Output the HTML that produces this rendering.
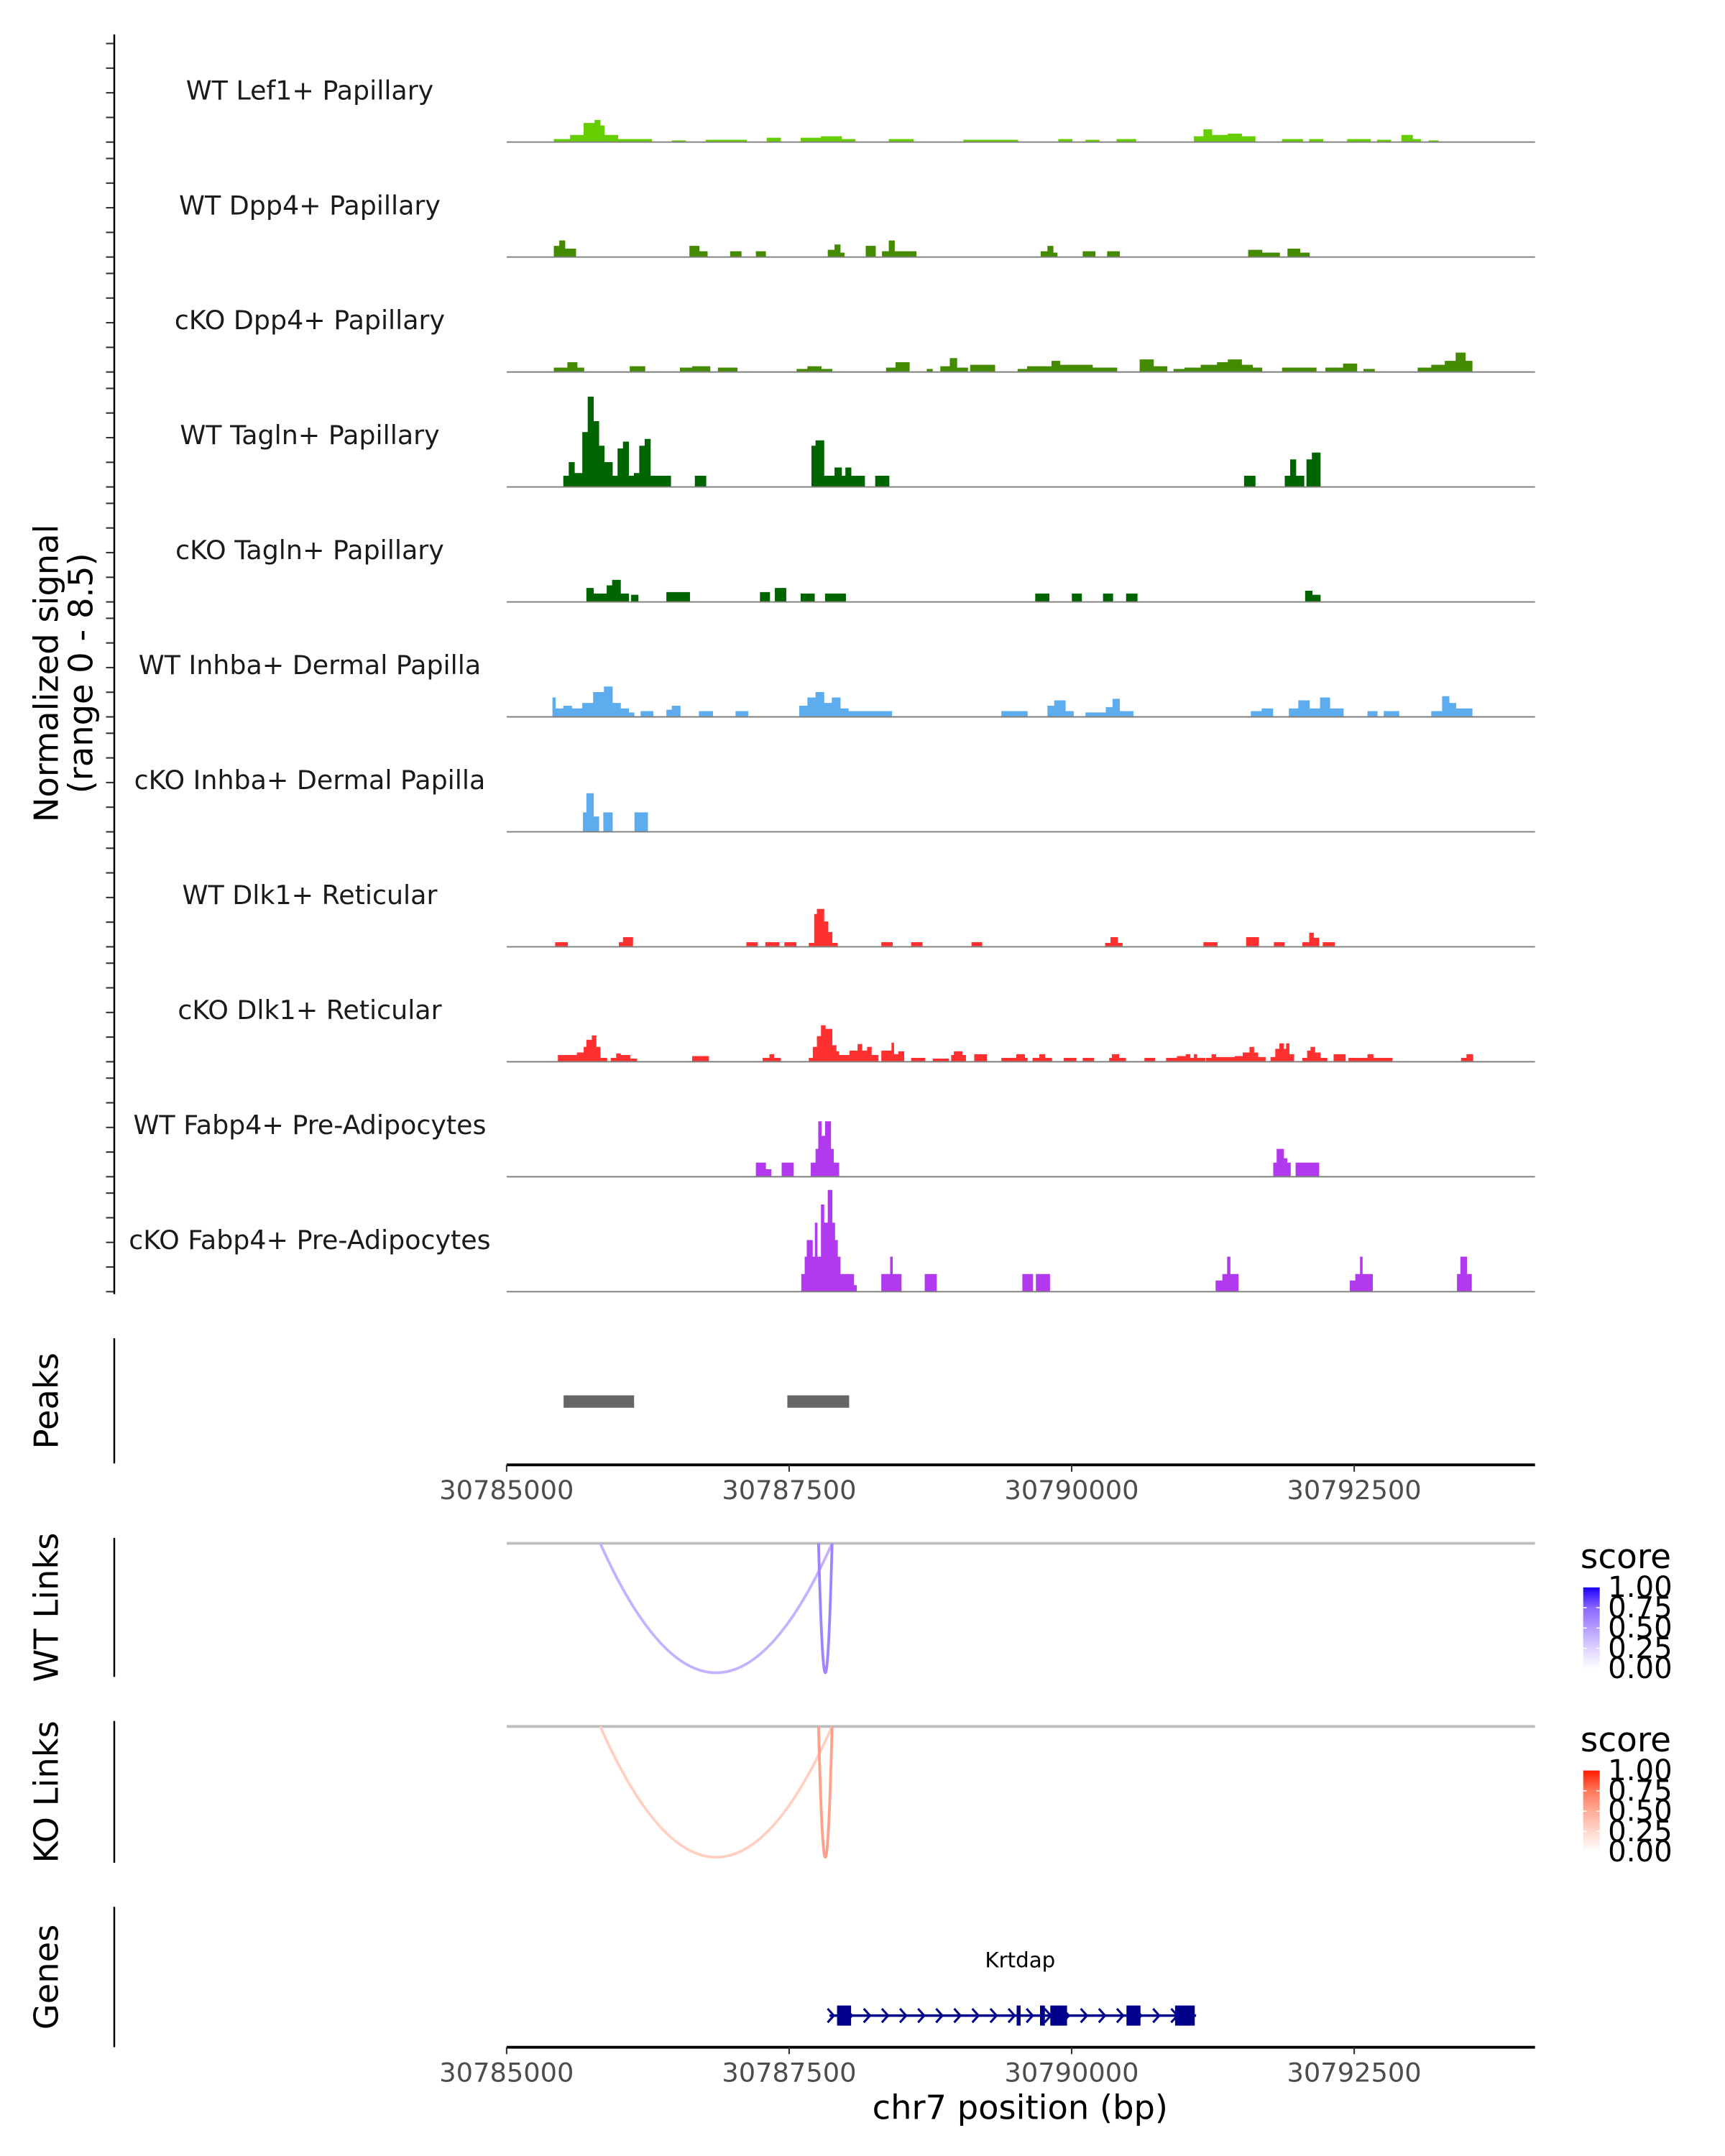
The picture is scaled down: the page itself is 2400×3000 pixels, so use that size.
<!DOCTYPE html>
<html><head><meta charset="utf-8"><title>Coverage plot</title>
<style>html,body{margin:0;padding:0;background:#fff}svg{display:block}text{font-family:"DejaVu Sans","Liberation Sans",sans-serif}</style>
</head><body>
<svg id="chart" xmlns="http://www.w3.org/2000/svg" width="2400" height="3000" viewBox="0 0 1253 1566" preserveAspectRatio="none">
<rect x="0" y="0" width="1253" height="1566" fill="#fff"/>
<g id="tracks"></g>
<g id="axes"></g>
</svg>
<script>
const REGION_START = 30785000;
const REGION_END = 30794100;
const xTickValues = [30785000, 30787500, 30790000, 30792500];
const trackNames = ["WT Lef1+ Papillary","WT Dpp4+ Papillary","cKO Dpp4+ Papillary","WT Tagln+ Papillary","cKO Tagln+ Papillary","WT Inhba+ Dermal Papilla","cKO Inhba+ Dermal Papilla","WT Dlk1+ Reticular","cKO Dlk1+ Reticular","WT Fabp4+ Pre-Adipocytes","cKO Fabp4+ Pre-Adipocytes"];
const trackColors = ["#66cd00","#458b00","#458b00","#006400","#006400","#5cacee","#5cacee","#ff3030","#ff3030","#b23aee","#b23aee"];
const yTickValues = [0,2,4,6,8];
// segments: [start offset bp, end offset bp, normalized signal]
const lef1WT = [[420,564,0.22],[564,684,0.55],[684,780,1.5],[780,828,1.75],[828,864,1.3],[864,984,0.55],[984,1284,0.22],[1464,1584,0.11],[1764,2124,0.16],[2304,2424,0.33],[2604,2784,0.33],[2784,2964,0.44],[2964,3084,0.22],[3384,3600,0.22],[4044,4524,0.16],[4884,5004,0.22],[5124,5244,0.16],[5400,5568,0.22],[6084,6168,0.44],[6168,6240,1.0],[6240,6384,0.55],[6384,6504,0.65],[6504,6624,0.44],[6864,7044,0.22],[7104,7224,0.22],[7440,7644,0.22],[7704,7824,0.16],[7920,8016,0.55],[8016,8088,0.22],[8160,8244,0.11]];
const dpp4WT = [[420,468,0.87],[468,516,1.3],[516,612,0.65],[1620,1704,0.87],[1704,1776,0.44],[1980,2076,0.44],[2208,2292,0.44],[2844,2904,0.55],[2904,2952,0.98],[2952,2988,0.33],[3180,3264,0.87],[3324,3384,0.44],[3384,3432,1.3],[3432,3624,0.44],[4728,4788,0.44],[4788,4836,0.87],[4836,4872,0.33],[5100,5208,0.44],[5316,5424,0.44],[6564,6684,0.55],[6684,6840,0.33],[6912,7020,0.65],[7020,7104,0.33]];
const dpp4KO = [[420,540,0.33],[540,624,0.76],[624,684,0.33],[1092,1224,0.44],[1536,1644,0.33],[1644,1800,0.44],[1872,2040,0.33],[2568,2664,0.22],[2664,2784,0.44],[2784,2880,0.22],[3360,3444,0.33],[3444,3564,0.76],[3720,3768,0.22],[3840,3924,0.44],[3924,3984,1.09],[3984,4080,0.33],[4104,4320,0.55],[4524,4608,0.22],[4608,4824,0.44],[4824,4896,0.87],[4896,5184,0.55],[5184,5400,0.33],[5604,5724,0.98],[5724,5844,0.44],[5904,6000,0.22],[6000,6144,0.33],[6144,6288,0.55],[6288,6384,0.76],[6384,6504,0.98],[6504,6600,0.55],[6600,6684,0.33],[6864,7164,0.33],[7248,7404,0.33],[7404,7524,0.65],[7584,7680,0.22],[8064,8184,0.33],[8184,8304,0.55],[8304,8400,0.87],[8400,8484,1.53],[8484,8544,0.87]];
const taglnWT = [[504,552,0.87],[552,600,1.96],[600,672,1.09],[672,720,4.36],[720,768,7.19],[768,816,5.23],[816,864,3.27],[864,936,1.96],[936,984,0.87],[984,1032,3.05],[1032,1080,3.6],[1080,1128,0.87],[1128,1176,1.09],[1176,1224,3.27],[1224,1272,3.81],[1272,1452,0.87],[1668,1764,0.87],[2700,2736,3.27],[2736,2808,3.7],[2808,2904,0.87],[2904,2964,1.53],[2964,3000,0.87],[3000,3048,1.53],[3048,3168,0.87],[3264,3384,0.87],[6528,6624,0.87],[6888,6936,0.87],[6936,6984,2.18],[6984,7056,0.87],[7080,7128,2.18],[7128,7200,2.72]];
const taglnKO = [[708,768,1.09],[768,888,0.65],[888,936,1.3],[936,1008,1.74],[1008,1080,0.65],[1104,1164,0.55],[1416,1620,0.76],[2244,2328,0.76],[2376,2472,1.09],[2604,2724,0.65],[2820,3000,0.65],[4680,4800,0.65],[5004,5088,0.65],[5280,5364,0.65],[5484,5580,0.65],[7068,7128,0.87],[7128,7200,0.55]];
const inhbaWT = [[408,432,1.53],[432,504,0.65],[504,576,0.87],[576,672,0.65],[672,768,1.09],[768,864,1.96],[864,936,2.4],[936,1008,1.09],[1008,1080,0.65],[1080,1128,0.33],[1188,1296,0.44],[1416,1464,0.55],[1464,1536,0.87],[1704,1824,0.44],[2028,2136,0.44],[2592,2664,0.87],[2664,2736,1.53],[2736,2808,1.96],[2808,2880,1.09],[2880,2952,1.53],[2952,3024,0.65],[3024,3144,0.44],[3144,3408,0.44],[4380,4608,0.44],[4788,4848,0.87],[4848,4944,1.3],[4944,5016,0.44],[5124,5304,0.33],[5304,5364,0.76],[5364,5424,1.42],[5424,5544,0.44],[6588,6684,0.44],[6684,6780,0.65],[6924,7008,0.65],[7008,7104,1.3],[7104,7200,0.65],[7200,7284,1.53],[7284,7404,0.65],[7620,7704,0.44],[7764,7896,0.44],[8184,8280,0.44],[8280,8340,1.63],[8340,8400,1.09],[8400,8544,0.65]];
const inhbaKO = [[678,708,1.53],[708,768,3.06],[768,816,1.2],[858,936,1.53],[1134,1248,1.53]];
const dlk1WT = [[432,540,0.35],[996,1032,0.35],[1032,1116,0.75],[2124,2220,0.35],[2292,2412,0.35],[2460,2562,0.35],[2676,2724,0.29],[2724,2748,2.6],[2748,2808,3.0],[2808,2844,2.0],[2844,2880,1.16],[2880,2928,0.29],[3318,3414,0.35],[3582,3678,0.35],[4116,4206,0.35],[5298,5346,0.29],[5346,5406,0.75],[5406,5448,0.29],[6168,6288,0.35],[6546,6654,0.75],[6792,6882,0.35],[7044,7104,0.35],[7104,7140,1.1],[7140,7188,0.7],[7224,7326,0.35]];
const dlk1KO = [[456,624,0.52],[624,684,0.72],[684,708,1.16],[708,756,1.73],[756,792,2.08],[792,828,1.16],[828,888,0.29],[924,972,0.29],[972,1008,0.64],[1008,1092,0.52],[1092,1152,0.23],[1644,1788,0.43],[2268,2328,0.29],[2328,2364,0.58],[2364,2424,0.29],[2676,2712,0.29],[2712,2748,1.16],[2748,2784,2.02],[2784,2820,2.89],[2820,2880,2.6],[2880,2916,1.3],[2916,2940,0.81],[2940,3036,0.52],[3036,3108,0.87],[3108,3144,1.39],[3144,3192,0.87],[3192,3228,1.16],[3228,3288,0.52],[3318,3408,0.87],[3408,3426,1.5],[3426,3468,0.58],[3468,3516,0.81],[3582,3702,0.29],[3774,3912,0.23],[3936,3960,0.52],[3960,4032,0.81],[4032,4062,0.52],[4140,4248,0.58],[4380,4512,0.29],[4512,4584,0.58],[4584,4608,0.29],[4656,4716,0.29],[4716,4764,0.58],[4764,4824,0.29],[4932,5040,0.29],[5100,5196,0.29],[5334,5358,0.29],[5358,5418,0.58],[5418,5478,0.29],[5646,5736,0.29],[5838,5934,0.29],[5934,6012,0.43],[6012,6048,0.58],[6048,6084,0.29],[6084,6108,0.58],[6108,6180,0.29],[6192,6240,0.29],[6240,6276,0.58],[6276,6444,0.35],[6444,6516,0.43],[6516,6576,0.72],[6576,6612,1.16],[6612,6648,0.72],[6648,6714,0.35],[6762,6804,0.35],[6804,6840,1.01],[6840,6876,1.45],[6876,6900,1.01],[6900,6924,1.45],[6924,6966,0.58],[7044,7086,0.29],[7086,7116,0.87],[7116,7152,1.16],[7152,7200,0.72],[7200,7260,0.29],[7320,7422,0.58],[7452,7620,0.29],[7620,7668,0.58],[7668,7836,0.29],[8448,8496,0.29],[8496,8550,0.58]];
const fabp4WT = [[2208,2292,1.1],[2292,2340,0.58],[2436,2538,1.1],[2694,2736,1.1],[2736,2760,2.2],[2760,2784,4.4],[2784,2820,3.24],[2820,2868,4.4],[2868,2892,2.2],[2892,2940,1.1],[6786,6816,1.1],[6816,6876,2.2],[6876,6906,1.45],[6906,6936,1.1],[6984,7188,1.1]];
const fabp4KO = [[2610,2640,1.39],[2640,2658,2.77],[2658,2706,4.1],[2706,2730,2.77],[2730,2748,5.49],[2748,2784,2.77],[2784,2808,6.94],[2808,2844,5.49],[2844,2880,8.1],[2880,2904,5.49],[2904,2928,4.1],[2928,2952,2.77],[2952,3072,1.39],[3072,3096,0.5],[3318,3396,1.39],[3396,3414,2.77],[3414,3492,1.39],[3702,3804,1.39],[4566,4656,1.39],[4686,4806,1.39],[6276,6336,0.87],[6336,6378,1.39],[6378,6402,2.77],[6402,6474,1.39],[7464,7512,0.87],[7512,7554,1.39],[7554,7572,2.77],[7572,7662,1.39],[8412,8442,1.39],[8442,8496,2.77],[8496,8538,1.39]];
const trackSeries = [lef1WT, dpp4WT, dpp4KO, taglnWT, taglnKO, inhbaWT, inhbaKO, dlk1WT, dlk1KO, fabp4WT, fabp4KO];
const peakRanges = [[504,1128],[2484,3031]];
const wtLinks = [[828,2880,0.4],[2760,2880,0.62]];
const koLinks = [[828,2880,0.3],[2760,2880,0.55]];
const legendTicks = [1.00,0.75,0.50,0.25,0.00];
const geneSpan = [2857,6101];
const geneExons = [[2924,3048],[4513,4548],[4720,4763],[4811,4959],[5485,5609],[5915,6089]];

const NS='http://www.w3.org/2000/svg';
const X0=368, X1=1115;
function xs(off){return X0+(off)*(X1-X0)/(REGION_END-REGION_START);}
function xbp(bp){return xs(bp-REGION_START);}
const UNIT=9.1, BASE0=103.2, STEP=83.5;
function ys(track,v){return BASE0+track*STEP - v*UNIT;}
function mk(tag,attrs,parent){const e=document.createElementNS(NS,tag);for(const k in attrs)e.setAttribute(k,attrs[k]);parent.appendChild(e);return e;}
const gT=document.getElementById('tracks'), gA=document.getElementById('axes');

function txt(s,attrs,parent){const t=mk('text',attrs,parent);t.textContent=s;return t;}

trackSeries.forEach((segs,i)=>{
  const g=mk('g',{},gT);
  
  
  const base=ys(i,0);
  const lab=txt(trackNames[i],{x:225,y:base-31,'text-anchor':'middle','font-size':19,fill:'#1a1a1a'},g);
  
  
  let d='';
  segs.forEach(s=>{const a=xs(s[0]),b=xs(s[1]),y=ys(i,s[2]);d+=`M${a.toFixed(2)},${base}L${a.toFixed(2)},${y.toFixed(2)}L${b.toFixed(2)},${y.toFixed(2)}L${b.toFixed(2)},${base}Z`;});
  const p=mk('path',{d:d,fill:trackColors[i],stroke:trackColors[i],'stroke-width':0.4},g);
  
  
  const bl=mk('line',{x1:X0,x2:X1,y1:base,y2:base,stroke:'#7f7f7f','stroke-width':1},g);
  
  
  yTickValues.forEach(v=>{
    const t=mk('line',{x1:77,x2:83,y1:BASE0+i*STEP-v*8.95,y2:BASE0+i*STEP-v*8.95,stroke:'#333','stroke-width':1.1},gA);
    
    
  });
});
let ln=mk('line',{x1:83,x2:83,y1:25,y2:940,stroke:'#000','stroke-width':1.3},gA);


let yt=txt('Normalized signal',{x:0,y:0,transform:'translate(42,489) rotate(-90)','text-anchor':'middle','font-size':24.2,fill:'#000'},gA);


yt=txt('(range 0 - 8.5)',{x:0,y:0,transform:'translate(67,489) rotate(-90)','text-anchor':'middle','font-size':24.2,fill:'#000'},gA);



[['Peaks',972,1063],['WT Links',1117,1218],['KO Links',1250,1353],['Genes',1385,1487]].forEach(p=>{
  const l=mk('line',{x1:83,x2:83,y1:p[1],y2:p[2],stroke:'#000','stroke-width':1.3},gA);
  
  
  const t=txt(p[0],{x:0,y:0,transform:`translate(42,${(p[1]+p[2])/2}) rotate(-90)`,'text-anchor':'middle','font-size':24.2,fill:'#000'},gA);
  
  
});

peakRanges.forEach(r=>{
  const e=mk('rect',{x:xs(r[0]),y:1013.5,width:xs(r[1])-xs(r[0]),height:9,fill:'#666'},gT);
  
  
});

function xAxis(y){
  const l=mk('line',{x1:X0,x2:X1,y1:y,y2:y,stroke:'#000','stroke-width':2},gA);
  
  
  xTickValues.forEach(v=>{
    const t=mk('line',{x1:xbp(v),x2:xbp(v),y1:y,y2:y+5,stroke:'#333','stroke-width':1.1},gA);
    
    
    const tl=txt(String(v),{x:xbp(v),y:y+25,'text-anchor':'middle','font-size':19.2,fill:'#4d4d4d'},gA);
    
    
  });
}
xAxis(1064);
xAxis(1487);
let xt=txt('chr7 position (bp)',{x:741,y:1539,'text-anchor':'middle','font-size':24.2,fill:'#000'},gA);



function mixHex(stops,v){
  for(let i=1;i<stops.length;i++){if(v<=stops[i][0]){const a=stops[i-1],b=stops[i];const t=(v-a[0])/(b[0]-a[0]);
    const ca=a[1].match(/\w\w/g).map(h=>parseInt(h,16)),cb=b[1].match(/\w\w/g).map(h=>parseInt(h,16));
    return 'rgb('+ca.map((c,k)=>Math.round(c+(cb[k]-c)*t)).join(',')+')';}}
  return stops[stops.length-1][1];
}
const blueStops=[[0,'#ffffff'],[0.25,'#ddd2ff'],[0.5,'#b59dff'],[0.75,'#8a66ff'],[1,'#1a00ff']];
const redStops=[[0,'#ffffff'],[0.25,'#ffd8cc'],[0.5,'#ffab95'],[0.75,'#ff7a5c'],[1,'#ff1a00']];
function linksPanel(links,top,bottom,stops,name,gradId){
  const g=mk('g',{},gT);
  
  
  const bl=mk('line',{x1:X0,x2:X1,y1:top,y2:top,stroke:'#bebebe','stroke-width':2},g);
  
  
  links.forEach(l=>{
    const a=xs(l[0]),b=xs(l[1]),depth=bottom-top;
    const p=mk('path',{d:`M${a},${top}Q${(a+b)/2},${top+2*depth} ${b},${top}`,fill:'none',stroke:mixHex(stops,l[2]),'stroke-width':2},g);
    
    
  });
  const defs=mk('defs',{},g);
  const lg=mk('linearGradient',{id:gradId,x1:0,y1:1,x2:0,y2:0},defs);
  stops.forEach(s=>mk('stop',{offset:s[0],'stop-color':s[1]},lg));
  const lt=txt('score',{x:1148,y:top+18,'font-size':24.5,fill:'#000'},g);
  
  
  const by0=top+32, by1=top+91;
  const bar=mk('rect',{x:1150,y:by0,width:12,height:by1-by0,fill:`url(#${gradId})`},g);
  
  
  legendTicks.forEach(v=>{
    const y=by1-v*(by1-by0);
    const tl=txt(v.toFixed(2),{x:1168,y:y+7,'font-size':21,fill:'#000'},g);
    
    
    if(v>0&&v<1){const t=mk('line',{x1:1150,x2:1152.5,y1:y,y2:y,stroke:'#fff','stroke-width':0.8},g);
      
      
      const t2=mk('line',{x1:1159.5,x2:1162,y1:y,y2:y,stroke:'#fff','stroke-width':0.8},g);
      
      }
  });
}
linksPanel(wtLinks,1121,1215,blueStops,'wt-links','gradBlue');
linksPanel(koLinks,1254,1349,redStops,'ko-links','gradRed');

const gg=mk('g',{},gT);


const gy=1464;
let gl=txt('Krtdap',{x:741,y:1429,'text-anchor':'middle','font-size':15.3,fill:'#000'},gg);


let gline=mk('line',{x1:xs(geneSpan[0]),x2:xs(geneSpan[1]),y1:gy,y2:gy,stroke:'#00008b','stroke-width':1.8},gg);


for(let off=geneSpan[0]+20; off<geneSpan[1]-60; off+=160){
  const cx=xs(off);
  const c=mk('path',{d:`M${cx-3},${gy-5}L${cx+1.5},${gy}L${cx-3},${gy+5}`,fill:'none',stroke:'#00008b','stroke-width':1.6},gg);
  
  
}
geneExons.forEach(e=>{
  const r=mk('rect',{x:xs(e[0]),y:gy-7.3,width:Math.max(1.5,xs(e[1])-xs(e[0])),height:14.6,fill:'#00008b'},gg);
  
  
});
</script>
</body></html>
